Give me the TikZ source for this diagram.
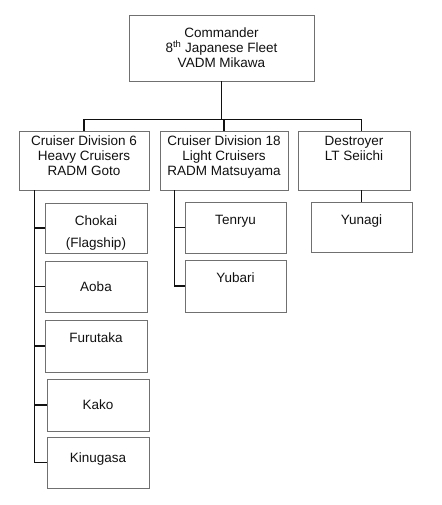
\documentclass[tikz,border=0pt]{standalone}
\usepackage{fontspec}
\setmainfont{Liberation Sans}
\usetikzlibrary{positioning}
\definecolor{orgInk}{HTML}{111111}
\definecolor{orgEdge}{HTML}{707070}
\tikzset{
  every picture/.style={font=\fontsize{13.5}{15}\selectfont, text=orgInk},
  org box/.style={draw=orgEdge, line width=0.7pt, fill=white, inner sep=0pt,
    align=center},
  org text/.style={anchor=north, align=center, inner sep=0pt, yshift=#1},
  org text/.default=-13pt,
  org line/.style={draw=orgInk, line width=1.2pt}
}
\begin{document}
\begin{tikzpicture}[x=1pt,y=-1pt]
  \useasboundingbox (0,0) rectangle (441,505);
  % fleet command
  \node[org box, minimum width=185pt, minimum height=66pt,
    label={[org text]north:{Commander\\8\textsuperscript{th} Japanese Fleet\\VADM Mikawa}}]
    (cmd) at (221.5,48) {};
  % divisions
  \node[org box, minimum width=130pt, minimum height=59pt,
    label={[org text=-5pt]north:{Cruiser Division 6\\Heavy Cruisers\\RADM Goto}}]
    (div6) at (84,160.5) {};
  \node[org box, minimum width=128pt, minimum height=59pt,
    label={[org text=-5pt]north:{Cruiser Division 18\\Light Cruisers\\RADM Matsuyama}}]
    (div18) at (224,160.5) {};
  \node[org box, minimum width=112pt, minimum height=59pt,
    label={[org text=-5pt]north:{Destroyer\\LT Seiichi}}]
    (dest) at (354,160.5) {};
  % ships
  \node[org box, minimum width=102pt, minimum height=50pt,
    label={[org text]north:{Chokai\\[7pt](Flagship)}}] (chokai) at (96,228) {};
  \node[org box, minimum width=102pt, minimum height=51pt] (aoba) at (96,286.5) {Aoba};
  \node[org box, minimum width=102pt, minimum height=52pt,
    label={[org text]north:Furutaka}] (furutaka) at (96,346) {};
  \node[org box, minimum width=102pt, minimum height=52pt] (kako) at (98,405) {Kako};
  \node[org box, minimum width=102pt, minimum height=51pt,
    label={[org text=-16pt]north:Kinugasa}] (kinugasa) at (98,462.5) {};
  \node[org box, minimum width=101pt, minimum height=51pt,
    label={[org text]north:Tenryu}] (tenryu) at (235.5,227.5) {};
  \node[org box, minimum width=101pt, minimum height=52pt,
    label={[org text]north:Yubari}] (yubari) at (235.5,286) {};
  \node[org box, minimum width=101pt, minimum height=50pt,
    label={[org text]north:Yunagi}] (yunagi) at (361.5,227) {};

  % connectors
  \draw[org line] (cmd.south) -- ++(0,38) coordinate (bus);
  \draw[org line] (div6.north) |- (bus -| yunagi.north) -- (yunagi.north |- dest.north);
  \draw[org line] (bus -| div18.north) -- (div18.north);
  \draw[org line] (yunagi.north |- dest.south) -- (yunagi.north);
  \coordinate (sp6) at ([xshift=16pt]div6.south west);
  \draw[org line] (sp6) |- (kinugasa.west);
  \foreach \s in {chokai,aoba,furutaka,kako}
    \draw[org line] (sp6 |- \s.west) -- (\s.west);
  \coordinate (sp18) at ([xshift=15pt]div18.south west);
  \draw[org line] (sp18) |- (yubari.west);
  \draw[org line] (sp18 |- tenryu.west) -- (tenryu.west);
\end{tikzpicture}
\end{document}
